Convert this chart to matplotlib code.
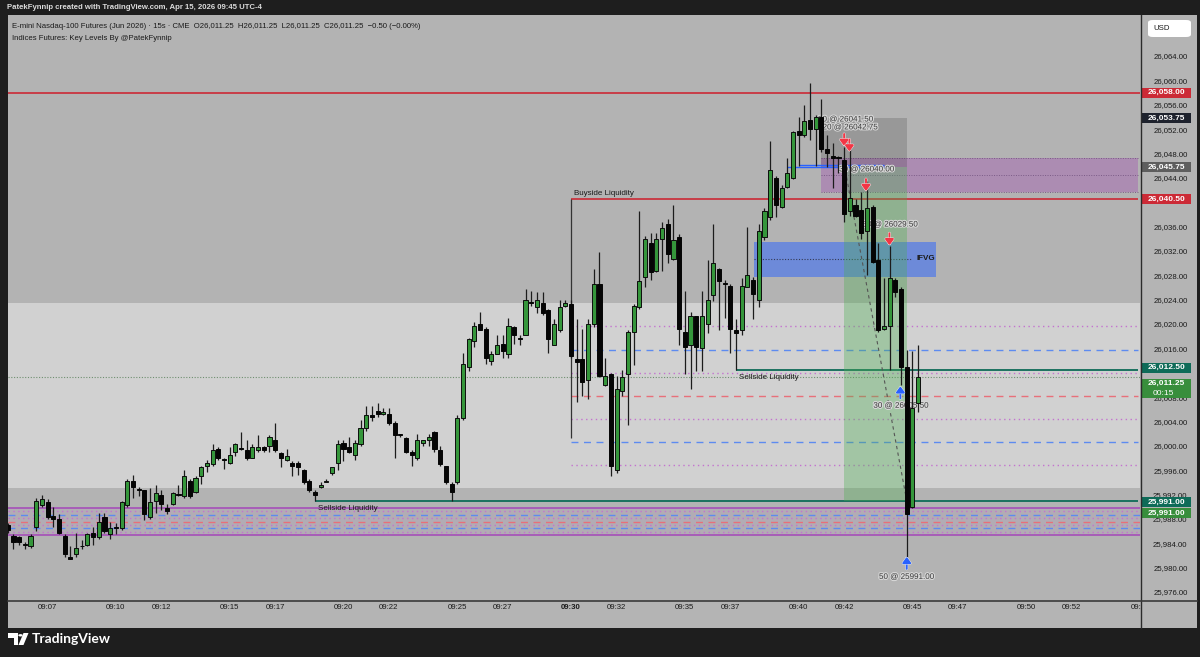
import matplotlib
matplotlib.use('Agg')
import matplotlib.pyplot as plt
import matplotlib.transforms as mtrans
import matplotlib.patheffects as pe
from matplotlib.patches import Rectangle, FancyBboxPatch, Polygon, Circle, FancyArrowPatch
from matplotlib.lines import Line2D
import numpy as np
import pandas as pd

plt.rcParams['font.family'] = ['Liberation Sans', 'DejaVu Sans']

# 15s bars, 09:05:15 -> 09:45:15
opens = [25987, 25985.25, 25985, 25983.75, 25983.5, 25986.75, 25990.25, 25990.75, 25988.5, 25988,
         25985.25, 25981.75, 25982.25, 25983.5, 25983.75, 25985.75, 25985, 25988.25, 25985.5, 25986.5,
         25986.5, 25990.25, 25994.25, 25992.75, 25992.75, 25988.25, 25991, 25992, 25989.75, 25990.5,
         25992, 25991.75, 25994.25, 25992.5, 25995, 25996.75, 25997, 25999.5, 25997.75, 25997.25,
         25999, 25999.5, 25999.25, 25998, 25999.25, 25999.75, 26000, 26001, 25998.75, 25997.75,
         25997.25, 25997.25, 25996, 25994.25, 25992.5, 25993.25, 25994, 25995.5, 25997.25, 26000.5,
         25999.75, 25998.5, 26000.25, 26003, 26005, 26005.75, 26005.25, 26005.25, 26003.75, 26001.75,
         26001.25, 25999, 25998, 26000.5, 26001, 26002.25, 25999.25, 25996.75, 25993.75, 25994,
         26004.5, 26013, 26017.25, 26020, 26019.25, 26014, 26015, 26016.75, 26015, 26019.5,
         26017.75, 26018.25, 26023.5, 26022.75, 26023.5, 26022.25, 26016.5, 26019, 26023, 26023.25,
         26014.25, 26014.25, 26010.75, 26020, 26026.5, 26010, 26011.75, 25996, 26009, 26011.75,
         26018.75, 26022.75, 26027.75, 26033.25, 26028.75, 26034, 26036.5, 26030.75, 26034.25, 26018.75,
         26016.5, 26021.25, 26016, 26020, 26024.75, 26029, 26026.75, 26026.25, 26019, 26019,
         26026, 26027.25, 26024, 26034.25, 26037.5, 26044, 26039.25, 26042.5, 26044, 26051.75,
         26051, 26053.5, 26052, 26054, 26048.75, 26047.5, 26047.25, 26047, 26038.5, 26039.5,
         26038.75, 26035.25, 26039.25, 26030.5, 26019.25, 26019.75, 26027.25, 26025.75, 26013, 25990,
         26007]
highs = [25987.25, 25985.5, 25985.25, 25984.25, 25985.5, 25991.5, 25992, 25991.25, 25990, 25988.75,
         25985.5, 25983.5, 25985.75, 25984.5, 25985.75, 25986.75, 25989, 25989, 25987.5, 25987.25,
         25991, 25994.5, 25995.25, 25993.25, 25992.75, 25993, 25993.5, 25992.75, 25990.5, 25992.5,
         25993.5, 25996, 25994.5, 25995, 25996.75, 25997.75, 26000.25, 25999.75, 25998, 25999.75,
         26000.5, 26002.25, 26001, 26000.25, 26001.75, 26000, 26001.75, 26003.75, 25999, 25999.5,
         25997.5, 25997.5, 25996.25, 25994.5, 25992.75, 25994, 25994.5, 25996.5, 26001, 26001,
         26001.5, 26001, 26004.25, 26006.5, 26006.5, 26007, 26006.25, 26006.25, 26004, 26002,
         26001.5, 25999.25, 26002, 26001, 26002, 26002.5, 26000, 25996.75, 25994, 26005,
         26015.25, 26017.75, 26020.25, 26022, 26019.5, 26015.5, 26018.25, 26018.25, 26021, 26019.75,
         26018.25, 26025.75, 26025.5, 26025.25, 26025.25, 26022.5, 26020.75, 26024, 26024, 26024,
         26020.75, 26019.25, 26020.75, 26029, 26031.75, 26014.5, 26012, 26011.5, 26012.5, 26019,
         26023.25, 26038.5, 26034.5, 26035, 26035, 26036.75, 26037.25, 26039.5, 26034.75, 26025.5,
         26022, 26021.25, 26025.5, 26030.5, 26036.5, 26029.25, 26027.25, 26026.5, 26020.75, 26027.5,
         26036, 26027.75, 26036.5, 26039, 26050, 26044.25, 26042.75, 26047.25, 26051.75, 26054,
         26056, 26059.5, 26054.25, 26057, 26051, 26049.75, 26047.5, 26049, 26049, 26040.5,
         26041.75, 26043.5, 26039.5, 26033.25, 26027.5, 26032.75, 26027.5, 26026, 26015.75, 26015.5,
         26016.5]
lows = [25985.75, 25983, 25983.75, 25983, 25983.25, 25986, 25990, 25988, 25986.75, 25985.5,
        25981.75, 25981.5, 25981.75, 25983, 25983.5, 25983.75, 25984.75, 25985.75, 25984.75, 25985.5,
        25986.25, 25990, 25991.5, 25991.75, 25987.75, 25988, 25989, 25989.5, 25988.75, 25990.25,
        25991.75, 25991.5, 25991.5, 25992.25, 25993.75, 25995.75, 25996.75, 25997.75, 25996.25, 25997,
        25998.25, 25999.25, 25997.75, 25998, 25999, 25999, 25999, 25999, 25996.5, 25997.5,
        25995, 25995.25, 25993.75, 25992.5, 25991, 25993, 25994, 25995.25, 25996, 25997.5,
        25998.75, 25997.75, 26000, 26002.5, 26004, 26004.75, 26005, 26003.5, 25998, 26001.5,
        25998.75, 25996.75, 25997.75, 26000, 26000, 25999, 25996.75, 25993.75, 25991, 25993.75,
        26004.25, 26012.25, 26016.25, 26019, 26013.5, 26013.25, 26015, 26014.5, 26014.5, 26016.75,
        26016.5, 26018.25, 26023, 26021.75, 26021.5, 26015.25, 26016.5, 26018.75, 26022.75, 26014.5,
        26007.25, 26008.25, 26007.75, 26019.5, 26011.25, 26009.75, 25995, 25995.5, 26008.25, 26003.5,
        26013.25, 26022.5, 26026, 26027.25, 26028.5, 26028.75, 26030, 26030.5, 26016.5, 26011.75,
        26009.25, 26012.25, 26012.25, 26018.5, 26023.75, 26019, 26021, 26015.25, 26012.5, 26018.25,
        26026, 26020.75, 26022.75, 26033.75, 26037, 26037.5, 26039, 26042.25, 26043.75, 26046,
        26050.75, 26050.25, 26046, 26048.25, 26045.75, 26042.25, 26044.75, 26036.75, 26037.75, 26037.5,
        26034, 26028, 26030, 26018.75, 26019, 26012.5, 26024.5, 26010, 25981.75, 25989.75,
        26005.5]
closes = [25986.25, 25984.25, 25984.25, 25983.75, 25985.25, 25991, 25991.25, 25988.25, 25988, 25985.75,
          25982.25, 25981.5, 25983.25, 25983.5, 25985.5, 25985, 25987.5, 25986, 25986.5, 25986.5,
          25990.75, 25994.25, 25993.25, 25992.75, 25988.75, 25990.75, 25992.25, 25990.5, 25989.25, 25992.25,
          25992, 25995, 25991.75, 25994.75, 25996.5, 25997.25, 25999.25, 25998, 25997.75, 25998.5,
          26000.25, 25999.5, 25998, 25999.75, 25999.75, 25999.25, 26001.5, 25999.25, 25998, 25998.25,
          25996.75, 25996.5, 25994, 25992.75, 25992, 25993.5, 25994.25, 25996.5, 26000.25, 25999.5,
          25999, 26000.5, 26003, 26005, 26004.75, 26005.25, 26005.5, 26003.75, 26001.75, 26001.75,
          25999, 25998.5, 26001, 26001, 26001.5, 25999.5, 25997, 25994, 25992.5, 26004.5,
          26013.5, 26017.5, 26019.75, 26019, 26014.5, 26015, 26016.5, 26015.5, 26019.75, 26018.25,
          26017.5, 26024, 26023.5, 26024, 26021.75, 26017.5, 26020, 26022.75, 26023.5, 26014.75,
          26013.75, 26010.5, 26020, 26026.5, 26011.5, 26011.5, 25996.75, 26009.25, 26011.25, 26018.75,
          26023, 26027, 26034, 26028.5, 26034, 26035.75, 26031.5, 26033.75, 26019.25, 26016.25,
          26021.25, 26016.25, 26021.25, 26024, 26030, 26027, 26026.5, 26019.25, 26018.5, 26026.25,
          26028, 26025, 26035.25, 26038.5, 26045.25, 26039.5, 26042.25, 26044.75, 26051.5, 26051,
          26053.25, 26052, 26054, 26048.75, 26048, 26047.25, 26047.25, 26038, 26040.75, 26037.75,
          26035, 26039, 26030.25, 26019, 26019.75, 26027.5, 26025.25, 26013, 25988.75, 26006.25,
          26011.25]
times = pd.date_range('2026-04-15 09:05:15', periods=len(opens), freq='15s')

time_labels = ['09:07', '09:10', '09:12', '09:15', '09:17', '09:20', '09:22', '09:25', '09:27', '09:30',
               '09:32', '09:35', '09:37', '09:40', '09:42', '09:45', '09:47', '09:50', '09:52', '09:55']
price_labels = [25976, 25980, 25984, 25988, 25992, 25996, 26000, 26004, 26008, 26016, 26020,
                26024, 26028, 26032, 26036, 26044, 26048, 26052, 26056, 26060, 26064]

# levels
pdh_line = 26058.00
buyside = 26040.50
sellside_hi = 26012.50
sellside_lo = 25991.00
last_price = 26011.25
session_box = (25993.1, 26023.45)
or_levels = [26019.6, 26015.8, 26012.0, 26008.2, 26004.4, 26000.6, 25996.8]
or_kinds = ['p', 'b', 'p', 'r', 'p', 'b', 'p']
band_edges = [25989.87, 25985.36]
band_levels = [25989.3, 25988.7, 25988.1, 25987.5, 25987.0, 25986.5, 25985.9]
band_kinds = ['p', 'b', 'p', 'r', 'p', 'b', 'p']
ifvg = (26027.75, 26033.5, 26030.75)
purple_zone = (26041.75, 26047.25, 26044.5)
entry, stop, target = 26045.75, 26053.75, 25991.00

trade_texts = ['30 @ 26041.50', '20 @ 26042.75', '30 @ 26040.00', '30 @ 26029.50', '30 @ 26005.50', '50 @ 25991.00']
trade_text_pos = [(42.06, 26053.5), (42.26, 26052.2), (42.98, 26045.3), (44.02, 26036.25), (44.49, 26006.5), (44.74, 25978.4)]
sell_arrows = [(42.0, 26050.2), (42.23, 26049.3), (42.96, 26042.8), (43.99, 26033.9)]
buy_arrows = [(44.47, 26008.8), (44.75, 25980.8)]

tag_values = [26058.00, 26053.75, 26045.75, 26040.50, 26012.50, 26011.25, 25991.00, 25991.00]
tag_pos = [26058.0, 26053.75, 26045.75, 26040.5, 26012.85, 26010.2, 25990.8, 25988.95]
tag_colors = ['#cc2a36', '#1e222d', '#5e5e5e', '#cc2a36', '#0e6b58', '#388e3c', '#0e6b58', '#388e3c']

W, H = 1200, 657
def box(x0, y0, x1, y1):
    return [x0 / W, 1 - y1 / H, (x1 - x0) / W, (y1 - y0) / H]

fig = plt.figure(figsize=(12, 6.57), dpi=100, facecolor='#1e1e1e')
fig.add_artist(Rectangle((8 / W, 1 - 628 / H), 1189 / W, 613 / H, transform=fig.transFigure,
                         facecolor='#b4b4b4', edgecolor='none', zorder=-5))

ax = fig.add_axes(box(8, 15, 1140, 600))
ax.set_facecolor('#b3b3b3')
for s in ax.spines.values():
    s.set_visible(False)
xmin, xmax = 5.26, 54.91
ymin, ymax = 25974.69, 26070.73
ax.set_xlim(xmin, xmax)
ax.set_ylim(ymin, ymax)

t = ((times - pd.Timestamp('2026-04-15 09:00')).total_seconds() / 60).values
o, h, l, c = map(np.array, (opens, highs, lows, closes))

# backgrounds
ax.axhspan(session_box[0], session_box[1], color='#d1d1d1', zorder=0.2, lw=0)
ax.axhspan(band_edges[1], band_edges[0], color='#b070c0', alpha=0.10, zorder=0.3, lw=0)

kind_style = {'p': dict(color='#c373cf', ls=(0, (1, 2.5)), lw=1.0),
              'b': dict(color='#5d8bf0', ls=(0, (5, 4)), lw=1.0),
              'r': dict(color='#e8707a', ls=(0, (5, 4)), lw=1.0)}
for v in band_edges:
    ax.axhline(v, color='#a656b8', lw=1.3, zorder=1)
for v, k in zip(band_levels, band_kinds):
    ax.axhline(v, zorder=1, **kind_style[k])
for v, k in zip(or_levels, or_kinds):
    ax.hlines(v, 30.0, xmax, zorder=1, **kind_style[k])

ax.axhline(last_price, color='#6f8f70', ls=(0, (1, 1.5)), lw=0.8, zorder=1)
ax.axhline(pdh_line, color='#cc2a36', lw=1.2, zorder=2)
ax.hlines(buyside, 30.0, xmax, color='#cc2a36', lw=1.2, zorder=2)
ax.vlines(30.0, 26001.25, buyside, color='#333333', lw=0.9, zorder=2)
ax.hlines(sellside_hi, 37.25, xmax, color='#0e6b58', lw=1.3, zorder=2)
ax.hlines(sellside_lo, 18.75, xmax, color='#0e6b58', lw=1.3, zorder=2)
ax.text(30.13, buyside + 1.0, 'Buyside Liquidity', fontsize=5.8, color='#1a1a1a', va='center', zorder=9)
ax.text(37.37, sellside_hi - 1.3, 'Sellside Liquidity', fontsize=5.8, color='#1a1a1a', va='center', zorder=9)
ax.text(18.86, sellside_lo - 1.3, 'Sellside Liquidity', fontsize=5.8, color='#1a1a1a', va='center', zorder=9)

# zones
ax.add_patch(Rectangle((38.03, ifvg[0]), 8.02, ifvg[1] - ifvg[0], facecolor='#2962ff', alpha=0.5, lw=0, zorder=3))
ax.hlines(ifvg[2], 38.03, 45.0, color='#333a55', ls=(0, (1, 1.5)), lw=0.8, zorder=3)
ax.text(45.18, ifvg[2], 'IFVG', fontsize=5.8, fontweight='bold', color='#1a1a1a', va='center', zorder=9)
ax.add_patch(Rectangle((41.0, purple_zone[0]), xmax - 41.0, purple_zone[1] - purple_zone[0],
                       facecolor='#9c27b0', alpha=0.28, edgecolor='none', zorder=3))
for v in purple_zone:
    ax.hlines(v, 41.0, xmax, color='#7a5a86', ls=(0, (1, 1.5)), lw=0.7, zorder=3)
ax.add_patch(Rectangle((41.0, entry), 3.75, stop - entry, facecolor='#000000', alpha=0.15, lw=0, zorder=3))
ax.add_patch(Rectangle((42.0, target), 2.75, entry - target, facecolor='#4caf50', alpha=0.35, lw=0, zorder=3))
ax.hlines(26045.75, 39.47, 43.77, color='#2962ff', lw=1.0, zorder=4)
ax.hlines(26046.1, 40.0, 43.77, color='#2962ff', lw=1.0, zorder=4)
ax.plot([42.0, 44.75], [26046.25, 25991.0], color='#555555', ls=(0, (3, 3)), lw=0.8, zorder=4)

# candles
up = c > o
body_lo = np.minimum(o, c)
body_h = np.maximum(np.abs(c - o), 0.12)
ax.vlines(t, l, h, color='#1c1c1c', lw=0.9, zorder=5)
ax.bar(t[up], body_h[up], 0.18, bottom=body_lo[up], color='#35963b', edgecolor='#0d0d0d', lw=0.7, zorder=6)
ax.bar(t[~up], body_h[~up], 0.18, bottom=body_lo[~up], color='#050505', edgecolor='#050505', lw=0.7, zorder=6)

# trades
halo = [pe.withStroke(linewidth=1.6, foreground='#d6d6d6')]
for s, (x, y) in zip(trade_texts, trade_text_pos):
    ax.text(x, y, s, fontsize=5.8, color='#3a3a3a', ha='center', va='center', zorder=4.5, path_effects=halo)
arrow_halo = [pe.withStroke(linewidth=2.0, foreground='#f2f2f2')]
def trade_arrow(x, y, down, col):
    d = 1.0 if down else -1.0
    a = FancyArrowPatch((x, y + d), (x, y - d), arrowstyle='-|>,head_length=0.35,head_width=0.25',
                        mutation_scale=10, shrinkA=0, shrinkB=0, color=col, lw=1.4, zorder=8,
                        path_effects=arrow_halo)
    ax.add_patch(a)
for x, y in sell_arrows:
    trade_arrow(x, y, True, '#f23645')
for x, y in buy_arrows:
    trade_arrow(x, y, False, '#2962ff')

# time axis
tick_min = [int(s[3:]) for s in time_labels]
ax.set_xticks(tick_min)
ax.set_xticklabels(time_labels)
ax.tick_params(axis='x', length=0, pad=3, labelsize=5.6, labelcolor='#1a1a1a')
ax.set_yticks([])
for lab in ax.get_xticklabels():
    if lab.get_text() == '09:30':
        lab.set_fontweight('bold')

# price axis
ax_p = fig.add_axes(box(1141, 15, 1197, 600))
ax_p.set_zorder(3)
ax_p.set_facecolor('#b4b4b4')
for s in ax_p.spines.values():
    s.set_visible(False)
ax_p.set_ylim(ymin, ymax)
ax_p.set_xlim(0, 1)
ax_p.set_xticks([])
ax_p.set_yticks(price_labels)
ax_p.set_yticklabels([f'{v:,.2f}' for v in price_labels])
ax_p.tick_params(axis='y', length=0, pad=-33.5, labelsize=5.6, labelcolor='#1a1a1a')
blend = mtrans.blended_transform_factory(ax_p.transAxes, ax_p.transData)
for v, y, col in zip(tag_values, tag_pos, tag_colors):
    hh = 3.2 if (v == last_price and col == '#388e3c') else 1.64
    top = y + 0.82
    ax_p.add_patch(Rectangle((0.02, top - hh), 0.87, hh, transform=blend, facecolor=col, lw=0, zorder=5))
    ax_p.text(0.46, y, f'{v:,.2f}', transform=blend, fontsize=6, fontweight='bold', color='white',
              ha='center', va='center', zorder=6)
    if hh > 2:
        ax_p.text(0.21, y - 1.6, '00:15', transform=blend, fontsize=6, color='white',
                  ha='left', va='center', zorder=6)

corner = fig.add_axes(box(1141, 600, 1197, 628))
corner.set_zorder(3)
corner.set_facecolor('#b4b4b4')
corner.set_xticks([])
corner.set_yticks([])
for s in corner.spines.values():
    s.set_visible(False)

fig.add_artist(Line2D([1140.5 / W] * 2, [1 - 15 / H, 1 - 628 / H], color='#2b2b2b', lw=1.0, zorder=10))
fig.add_artist(Line2D([8 / W, 1197 / W], [1 - 600.5 / H] * 2, color='#3a3a3a', lw=1.2, zorder=10))
fig.add_artist(FancyBboxPatch((1148 / W, 1 - 37 / H), 43 / W, 17 / H, boxstyle='round,pad=0,rounding_size=0.004',
                              transform=fig.transFigure, facecolor='white', edgecolor='none', zorder=10))
fig.text(1153 / W, 1 - 28.5 / H, 'USD', fontsize=5.6, color='#1a1a1a', va='center', zorder=11)

# header
fig.text(7 / W, 1 - 7.5 / H, 'PatekFynnip created with TradingView.com, Apr 15, 2026 09:45 UTC-4',
         fontsize=5.6, color='#dcdcdc', fontweight='bold', va='center')
fig.text(12 / W, 1 - 26.5 / H,
         'E-mini Nasdaq-100 Futures (Jun 2026) \u00b7 15s \u00b7 CME  O26,011.25  H26,011.25  L26,011.25  C26,011.25  \u22120.50 (\u22120.00%)',
         fontsize=5.6, color='#1a1a1a', va='center', zorder=12)
fig.text(12 / W, 1 - 38.5 / H, 'Indices Futures: Key Levels By @PatekFynnip',
         fontsize=5.6, color='#1a1a1a', va='center', zorder=12)

# logo
fig.add_artist(Polygon([(8 / W, 1 - 633 / H), (18 / W, 1 - 633 / H), (18 / W, 1 - 645 / H), (13.5 / W, 1 - 645 / H),
                        (13.5 / W, 1 - 637.5 / H), (8 / W, 1 - 637.5 / H)], closed=True,
                       transform=fig.transFigure, facecolor='white', edgecolor='none'))
fig.add_artist(Circle((20.5 / W, 1 - 635.3 / H), 2.2 / W, transform=fig.transFigure, facecolor='white', edgecolor='none'))
fig.add_artist(Polygon([(23.5 / W, 1 - 633 / H), (28.5 / W, 1 - 633 / H), (23.5 / W, 1 - 645 / H), (18.5 / W, 1 - 645 / H)],
                       closed=True, transform=fig.transFigure, facecolor='white', edgecolor='none'))
fig.text(32 / W, 1 - 639 / H, 'TradingView', fontsize=10, color='white', fontweight='bold', va='center',
         family=['Lato', 'DejaVu Sans'])

fig.savefig('out.png', dpi=100, facecolor=fig.get_facecolor())
